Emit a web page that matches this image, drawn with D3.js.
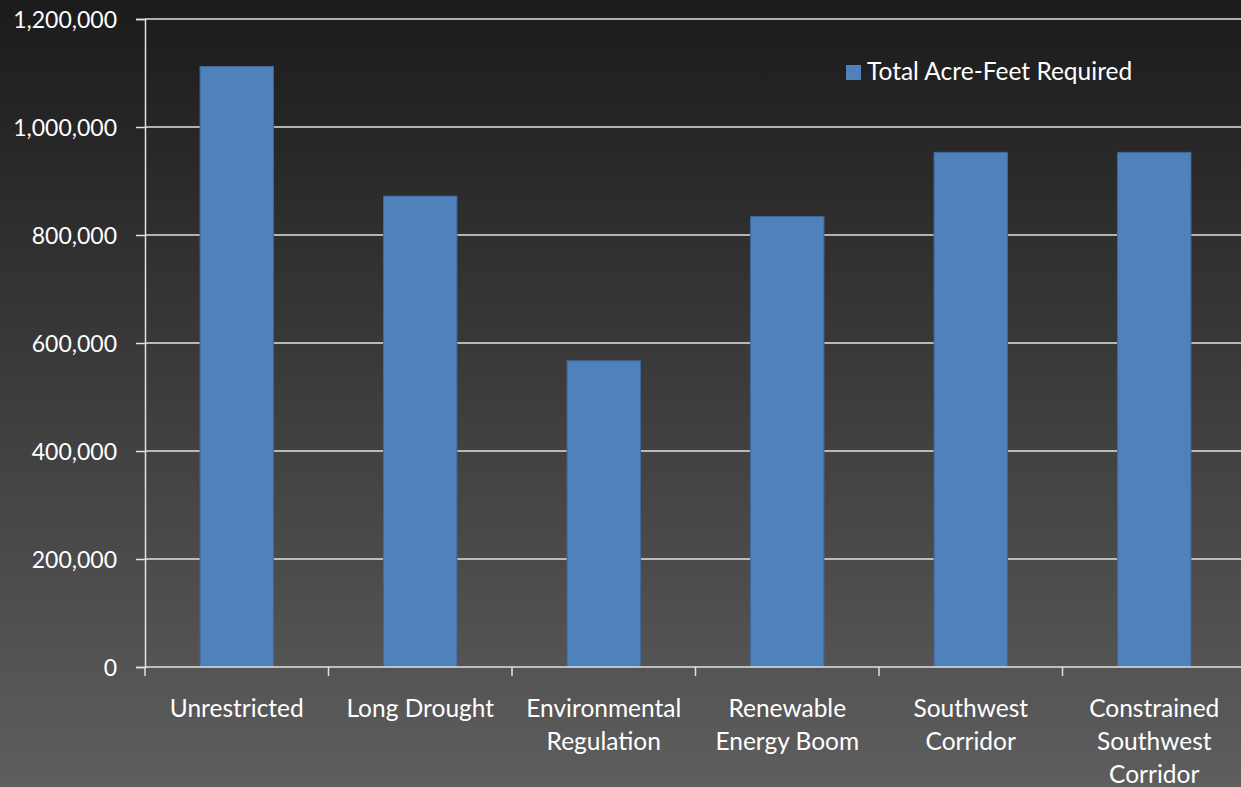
<!DOCTYPE html>
<html>
<head>
<meta charset="utf-8">
<script src="https://cdn.jsdelivr.net/npm/d3@7"></script>
<style>
  html, body { margin: 0; padding: 0; overflow: hidden; }
  svg { display: block; }
  text { font-family: Lato, "Open Sans", sans-serif; fill: #ffffff; }
</style>
</head>
<body>
<svg id="chart" width="1241" height="787"></svg>
<script>
// Scenario names (each entry is the wrapped label lines)
const categories = [
  ["Unrestricted"],
  ["Long Drought"],
  ["Environmental", "Regulation"],
  ["Renewable", "Energy Boom"],
  ["Southwest", "Corridor"],
  ["Constrained", "Southwest", "Corridor"]
];
// Total acre-feet required per scenario
const acreFeet = [1112000, 872000, 567000, 834000, 953000, 953000];
const yTicks = [0, 200000, 400000, 600000, 800000, 1000000, 1200000];
const seriesName = "Total Acre-Feet Required";

const W = 1241, H = 787;
const plot = { left: 145, right: 1246, top: 19, bottom: 667 };
const svg = d3.select("#chart");

// Background gradient
const defs = svg.append("defs");
const grad = defs.append("linearGradient")
  .attr("id", "bg").attr("x1", 0).attr("y1", 0).attr("x2", 0).attr("y2", 1);
grad.append("stop").attr("offset", "0%").attr("stop-color", "#1b1b1b");
grad.append("stop").attr("offset", "100%").attr("stop-color", "#5e5e5e");
svg.append("rect").attr("width", W).attr("height", H).attr("fill", "url(#bg)");

const labels = categories.map(c => c.join(" "));
const x = d3.scaleBand()
  .domain(labels)
  .range([plot.left, plot.right])
  .paddingInner(0.6).paddingOuter(0.3);
const xBand = d3.scaleBand().domain(labels).range([plot.left, plot.right]);
const y = d3.scaleLinear().domain([0, 1200000]).range([plot.bottom, plot.top]);

const lineColor = "#e2e2e2";

// Gridlines
svg.append("g").selectAll("line").data(yTicks.filter(d => d > 0)).join("line")
  .attr("x1", plot.left).attr("x2", plot.right)
  .attr("y1", d => y(d)).attr("y2", d => y(d))
  .attr("stroke", lineColor).attr("stroke-width", 1.5);

// Bars
svg.append("g").selectAll("rect").data(acreFeet).join("rect")
  .attr("x", (d, i) => x(labels[i]))
  .attr("width", x.bandwidth())
  .attr("y", d => y(d))
  .attr("height", d => y(0) - y(d))
  .attr("fill", "#4f81bd")
  .attr("stroke", "#41699a").attr("stroke-width", 1);

// Y axis
const yAxis = svg.append("g").attr("transform", `translate(${plot.left},0)`)
  .call(d3.axisLeft(y).tickValues(yTicks).tickSize(9).tickPadding(19)
    .tickFormat(d3.format(",")));
yAxis.select(".domain").attr("stroke", lineColor).attr("stroke-width", 1.5);
yAxis.selectAll(".tick line").attr("stroke", lineColor).attr("stroke-width", 1.5);
yAxis.selectAll(".tick text")
  .attr("font-size", 23).attr("fill", "#ffffff").attr("dy", "0.36em")
  .style("font-family", "Lato, 'Open Sans', sans-serif");

// X axis with category-boundary ticks
const xg = svg.append("g");
xg.append("line")
  .attr("x1", plot.left).attr("x2", plot.right)
  .attr("y1", y(0)).attr("y2", y(0))
  .attr("stroke", lineColor).attr("stroke-width", 1.5);
const bounds = labels.map(l => xBand(l)).concat([xBand(labels[labels.length - 1]) + xBand.bandwidth()]);
xg.selectAll("line.tk").data(bounds).join("line").attr("class", "tk")
  .attr("x1", d => d).attr("x2", d => d)
  .attr("y1", y(0)).attr("y2", y(0) + 9)
  .attr("stroke", lineColor).attr("stroke-width", 1.5);

const lbl = xg.selectAll("text.cat").data(categories).join("text").attr("class", "cat")
  .attr("text-anchor", "middle")
  .attr("font-size", 24.5)
  .attr("x", (d, i) => xBand(labels[i]) + xBand.bandwidth() / 2)
  .attr("y", 717);
lbl.selectAll("tspan").data(d => d).join("tspan")
  .attr("x", function () { return this.parentNode.getAttribute("x"); })
  .attr("dy", (d, i) => i === 0 ? 0 : 33)
  .text(d => d);

// Legend
const lg = svg.append("g").attr("transform", "translate(846,65)");
lg.append("rect").attr("width", 15).attr("height", 15).attr("fill", "#4f81bd");
lg.append("text").attr("x", 21).attr("y", 15).attr("font-size", 24.5).text(seriesName);
</script>
</body>
</html>
